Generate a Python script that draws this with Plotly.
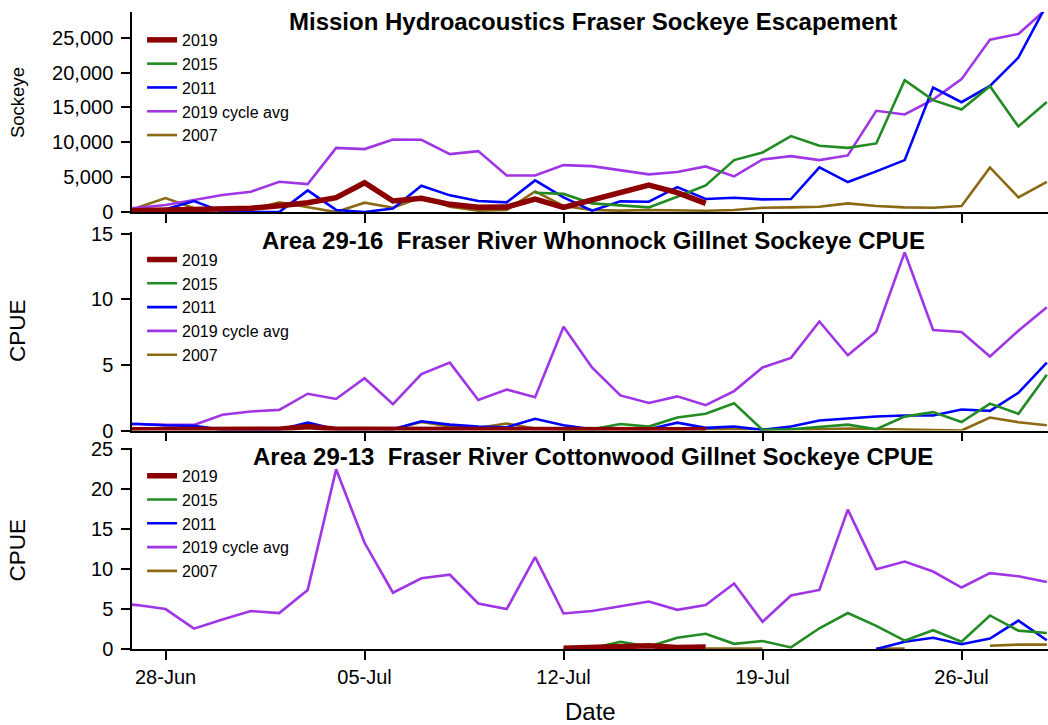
import pandas as pd
import plotly.graph_objects as go

# ---------------- data ----------------
dates = pd.date_range("2019-06-26", "2019-07-29", freq="D")
N = None

series_names = ["2019", "2015", "2011", "2019 cycle avg", "2007"]

# Mission hydroacoustics escapement
esc_2019 = [100, 150, 200, 290, 380, 530, 910, 1340, 2050, 4200, 1580, 1960, 1100, 670, 710, 1860,
            670, 1720, 2770, 3870, 2770, 1240] + [N] * 12
esc_2015 = [N] * 15 + [2770, 2600, 1240, 1000, 670, 2190, 3820, 7450, 8550, 10890, 9500, 9210, 9840,
                       18910, 16050, 14710, 18050, 12280, 15800]
esc_2011 = [100, 250, 400, 1580, 50, 0, 0, 3100, 300, 0, 500, 3770, 2390, 1580, 1390, 4540,
            2100, 190, 1530, 1480, 3580, 1860, 2050, 1820, 1860, 6400, 4300, 5830, 7450, 17860,
            15760, 18100, 22160, 29800]
esc_cycle = [400, 600, 1000, 1720, 2440, 2910, 4340, 4010, 9210, 9030, 10410, 10370, 8310, 8740, 5250,
             5250, 6730, 6590, 5970, 5400, 5730, 6540, 5110, 7550, 8020, 7450, 8120, 14520, 13990,
             16140, 19060, 24740, 25550, 29200]
esc_2007 = [100, 600, 2000, 530, 250, 300, 1390, 670, 0, 1340, 620, 2100, 760, 190, 290, 2960,
            860, 290, 200, 300, 200, 190, 290, 620, 670, 760, 1240, 860, 670, 620, 860, 6400, 2100, 4340]

# Area 29-16 Whonnock CPUE
wh_2019 = [0.05, 0.05, 0.05, 0.1, 0.1, 0.15, 0.1, 0.3, 0.1, 0.1, 0.1, 0.15, 0.1, 0.05, 0.1, 0.1,
           0.1, 0.1, 0.1, 0.1, 0.1, 0.05] + [N] * 12
wh_2015 = [N] * 16 + [0.1, 0.1, 0.5, 0.3, 0.99, 1.27, 2.08, 0.05, 0.1, 0.3, 0.45, 0.1, 1.06, 1.4,
                      0.65, 2.05, 1.27, 4.24]
wh_2011 = [0.5, 0.5, 0.4, 0.35, 0.05, 0.05, 0.05, 0.6, 0.1, 0.1, 0.1, 0.7, 0.45, 0.3, 0.25, 0.89,
           0.4, 0.1, 0.15, 0.1, 0.6, 0.2, 0.3, 0.05, 0.3, 0.76, 0.89, 1.07, 1.14, 1.14, 1.6, 1.5,
           2.87, 5.17]
wh_cycle = [0.5, 0.5, 0.43, 0.43, 1.2, 1.45, 1.57, 2.8, 2.4, 3.98, 2.0, 4.3, 5.17, 2.33, 3.12, 2.53,
            7.9, 4.8, 2.67, 2.1, 2.6, 1.93, 3.0, 4.8, 5.53, 8.3, 5.73, 7.53, 13.57, 7.66, 7.5, 5.63,
            7.6, 9.38]
wh_2007 = [0.1, 0.1, 0.2, 0.15, 0.1, 0.1, 0.15, 0.2, 0.1, 0.15, 0.1, 0.65, 0.3, 0.2, 0.53, 0.15,
           0.1, 0.1, 0.05, 0.05, 0.05, 0.05, 0.05, 0.05, 0.1, 0.1, 0.15, 0.1, 0.05, 0, 0, 0.99,
           0.63, 0.4]

# Area 29-13 Cottonwood CPUE
ct_2019 = [N] * 16 + [0.1, 0.15, 0.25, 0.4, 0.2, 0.25] + [N] * 12
ct_2015 = [N] * 16 + [0, 0.1, 0.9, 0.3, 1.4, 1.9, 0.65, 1.0, 0.2, 2.6, 4.5, 2.9, 1.05, 2.35, 0.9,
                      4.2, 2.3, 2.0]
ct_2011 = [N] * 27 + [0, 0.9, 1.4, 0.6, 1.3, 3.55, 1.1]
ct_cycle = [5.8, 5.5, 5.0, 2.55, 3.7, 4.75, 4.5, 7.4, 22.5, 13.3, 7.05, 8.85, 9.3, 5.7, 5.0, 11.5,
            4.45, 4.75, 5.35, 5.95, 4.9, 5.5, 8.2, 3.4, 6.7, 7.4, 17.45, 10.0, 10.95, 9.7, 7.7, 9.5,
            9.1, 8.4]
ct_2007 = [N] * 21 + [0.05, 0.05, 0.05] + [N] * 3 + [0.05, 0.05] + [N] * 2 + [0.4, 0.55, 0.55]

panel_titles = [
    "Mission Hydroacoustics Fraser Sockeye Escapement",
    "Area 29-16  Fraser River Whonnock Gillnet Sockeye CPUE",
    "Area 29-13  Fraser River Cottonwood Gillnet Sockeye CPUE",
]
y_titles = ["Sockeye", "CPUE", "CPUE"]
tick_dates = ["2019-06-28", "2019-07-05", "2019-07-12", "2019-07-19", "2019-07-26"]
tick_text = ["28-Jun", "05-Jul", "12-Jul", "19-Jul", "26-Jul"]

panels = [
    [esc_2019, esc_2015, esc_2011, esc_cycle, esc_2007],
    [wh_2019, wh_2015, wh_2011, wh_cycle, wh_2007],
    [ct_2019, ct_2015, ct_2011, ct_cycle, ct_2007],
]

# ---------------- style ----------------
colors = ["#8B0000", "#228B22", "#0000FF", "#A035E6", "#8B6914"]
widths = [5.5, 2.6, 2.6, 2.6, 2.6]
FONT = "Liberation Sans, Arial, sans-serif"

y_ranges = [[0, 28700], [0, 15.15], [0, 25.2]]
y_dticks = [5000, 5, 5]
# plot area: top 12px, bottom 649.3px  -> domains (paper fraction)
domains = [[0.686, 1.0], [0.343, 0.6553], [0.0, 0.3159]]
legend_y = [0.9828, 0.638, 0.2986]
y_title_sizes = [18.5, 22.5, 22.5]
y_title_shift = [9, 0, -2]
x_range = ["2019-06-26 19:40", "2019-07-29 01:00"]

fig = go.Figure()
draw_order = [4, 3, 2, 1, 0]  # 2019 drawn last (on top)
for p, vals in enumerate(panels):
    ax = "" if p == 0 else str(p + 1)
    for s in draw_order:
        fig.add_trace(go.Scatter(
            x=dates, y=vals[s], mode="lines", name=series_names[s],
            line=dict(color=colors[s], width=widths[s]),
            xaxis="x" + ax, yaxis="y" + ax,
            legend="legend" + ax, legendrank=s + 1,
            connectgaps=False, hoverinfo="skip",
        ))

layout = dict(
    width=1048, height=725,
    margin=dict(l=132, r=0, t=12, b=76),
    plot_bgcolor="white", paper_bgcolor="white",
    font=dict(family=FONT, size=20, color="black"),
    annotations=[],
)

for p in range(3):
    ax = "" if p == 0 else str(p + 1)
    layout["xaxis" + ax] = dict(
        domain=[0, 1], anchor="y" + ax, type="date", range=x_range,
        showline=True, linecolor="black", linewidth=1.5,
        ticks="outside", ticklen=9, tickwidth=1.5, tickcolor="black",
        tickvals=tick_dates, ticktext=tick_text,
        showticklabels=(p == 2), showgrid=False, zeroline=False,
        tickfont=dict(size=20), matches=None if p == 0 else "x",
    )
    layout["yaxis" + ax] = dict(
        domain=domains[p], anchor="x" + ax, range=y_ranges[p], dtick=y_dticks[p],
        showline=True, linecolor="black", linewidth=1.5,
        ticks="outside", ticklen=9, tickwidth=1.5, tickcolor="black",
        showgrid=False, zeroline=False, tickformat=",d" if p == 0 else "",
        tickfont=dict(size=20), ticklabelstandoff=4,
    )
    layout["legend" + ax] = dict(
        x=0.011, y=legend_y[p], xanchor="left", yanchor="top",
        bgcolor="rgba(0,0,0,0)", borderwidth=0,
        font=dict(family=FONT, size=16, color="black"),
        tracegroupgap=0, traceorder="normal",
    )
    layout["annotations"].append(dict(
        text="<b>" + panel_titles[p] + "</b>", xref="paper", yref="y" + ax + " domain",
        x=0.5, y=1, xanchor="center", yanchor="middle", yshift=-9, xshift=3,
        showarrow=False, font=dict(family=FONT, size=24, color="black"),
    ))
    layout["annotations"].append(dict(
        text=y_titles[p], xref="paper", yref="y" + ax + " domain",
        x=0, y=0.5, xanchor="center", yanchor="middle", xshift=-115,
        yshift=y_title_shift[p], textangle=-90,
        showarrow=False, font=dict(family=FONT, size=y_title_sizes[p], color="black"),
    ))

layout["annotations"].append(dict(
    text="Date", xref="paper", yref="paper", x=0.5, y=0, xanchor="center", yanchor="middle",
    yshift=-62, showarrow=False, font=dict(family=FONT, size=24, color="black"),
))

fig.update_layout(**layout)
fig.write_html(
    "out.html",
    config={"displayModeBar": False},
    post_script="document.body.style.margin='0px';document.body.style.overflow='hidden';",
)
